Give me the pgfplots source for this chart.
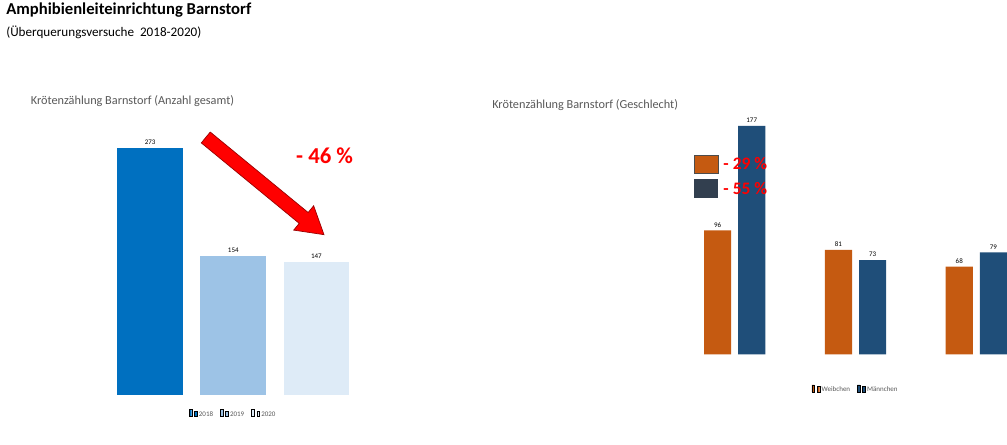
\documentclass[border=0pt]{standalone}
\usepackage{fontspec}
\setmainfont{Carlito}
\usepackage{pgfplots}
\pgfplotsset{compat=1.18}
\definecolor{b18}{HTML}{0070C0}
\definecolor{b19}{HTML}{9DC3E6}
\definecolor{b20}{HTML}{DEEBF7}
\definecolor{wf}{HTML}{C55A11}
\definecolor{mn}{HTML}{1F4E79}
\definecolor{mbox}{HTML}{323F4F}
\definecolor{gridc}{HTML}{D9D9D9}
\definecolor{txt}{HTML}{595959}
\pgfplotsset{
  common/.style={
    scale only axis, axis lines=none,
    ymajorgrids, grid style={gridc, line width=0.8pt},
    ytick pos=left, major tick length=0pt,
    tick label style={font=\fontsize{8}{9}\selectfont, text=txt},
    /pgf/number format/assume math mode=true,
    axis line style={draw=none},
    nodes near coords, every node near coord/.append style={font=\fontsize{8}{9}\selectfont, text=black},
    legend style={draw=none, font=\fontsize{8}{9}\selectfont, text=txt, legend columns=-1,
      /tikz/every even column/.append style={column sep=6pt}},
    legend image code/.code={\fill[#1] (0pt,-2.5pt) rectangle (5pt,2.5pt);},
  }
}
\begin{document}
\begin{tikzpicture}[x=1pt,y=1pt]
\fill[white] (0,0) rectangle (1007,508);
\node[anchor=north west, inner sep=0, font=\fontsize{19}{22}\selectfont\bfseries] at (7,505) {Amphibienleiteinrichtung Barnstorf};
\node[anchor=north west, inner sep=0, font=\fontsize{15}{18}\selectfont] at (7,478) {(Überquerungsversuche\ \ 2018-2020)};
\node[anchor=west, inner sep=0, font=\fontsize{14}{16}\selectfont, text=txt] at (35,393) {Krötenzählung Barnstorf (Anzahl gesamt)};
\node[anchor=west, inner sep=0, font=\fontsize{14}{16}\selectfont, text=txt] at (562,388) {Krötenzählung Barnstorf (Geschlecht)};
\begin{axis}[common, at={(55,55)}, anchor=south west, width=428pt, height=310pt,
  xmin=-1.258, xmax=3.253, ymin=0, ymax=300, ytick={0,50,...,300}, xtick=\empty,
  ybar, bar width=75pt, bar shift=0pt, clip=false,
  legend style={at={(0.5,-0.045)}, anchor=north}]
\addplot[fill=b18, draw=none] coordinates {(0,273)};
\addplot[fill=b19, draw=none] coordinates {(1,154)};
\addplot[fill=b20, draw=none] coordinates {(2,147)};
\legend{2018,2019,2020}
\end{axis}
\begin{axis}[common, at={(558,70)}, anchor=south west, width=414pt, height=295pt,
  xmin=-0.5, xmax=2.5, ymin=0, ymax=200, ytick={0,20,...,200},
  xtick={0,1,2}, xticklabels={2018,2019,2020},
  ybar, bar width=31pt, clip=false,
  legend style={at={(0.5,-0.11)}, anchor=north}]
\addplot[fill=wf, draw=none, bar shift=-19.5pt] coordinates {(0,96) (1,81) (2,68)};
\addplot[fill=mn, draw=none, bar shift=19.5pt] coordinates {(0,177) (1,73) (2,79)};
\legend{Weibchen,Männchen}
\end{axis}
\filldraw[fill=red, draw=red!60!black, line width=0.8pt]
 (240.1,357.2) -- (351.9,265.3) -- (358.2,273.0) -- (370,240) -- (335.4,245.2) -- (341.7,252.9) -- (229.9,344.8) -- cycle;
\node[anchor=west, inner sep=0, text=red, font=\fontsize{26}{30}\selectfont\bfseries] at (338,330) {- 46 \%};
\fill[wf] (793,310) rectangle (820,331);
\draw[black!70, line width=0.5pt] (793,310) rectangle (820,331);
\fill[mbox] (793,282) rectangle (820,303);
\node[anchor=west, inner sep=0, text=red, font=\fontsize{20}{24}\selectfont\bfseries] at (826,321) {- 29 \%};
\node[anchor=west, inner sep=0, text=red, font=\fontsize{20}{24}\selectfont\bfseries] at (826,293) {- 55 \%};
\end{tikzpicture}
\end{document}
